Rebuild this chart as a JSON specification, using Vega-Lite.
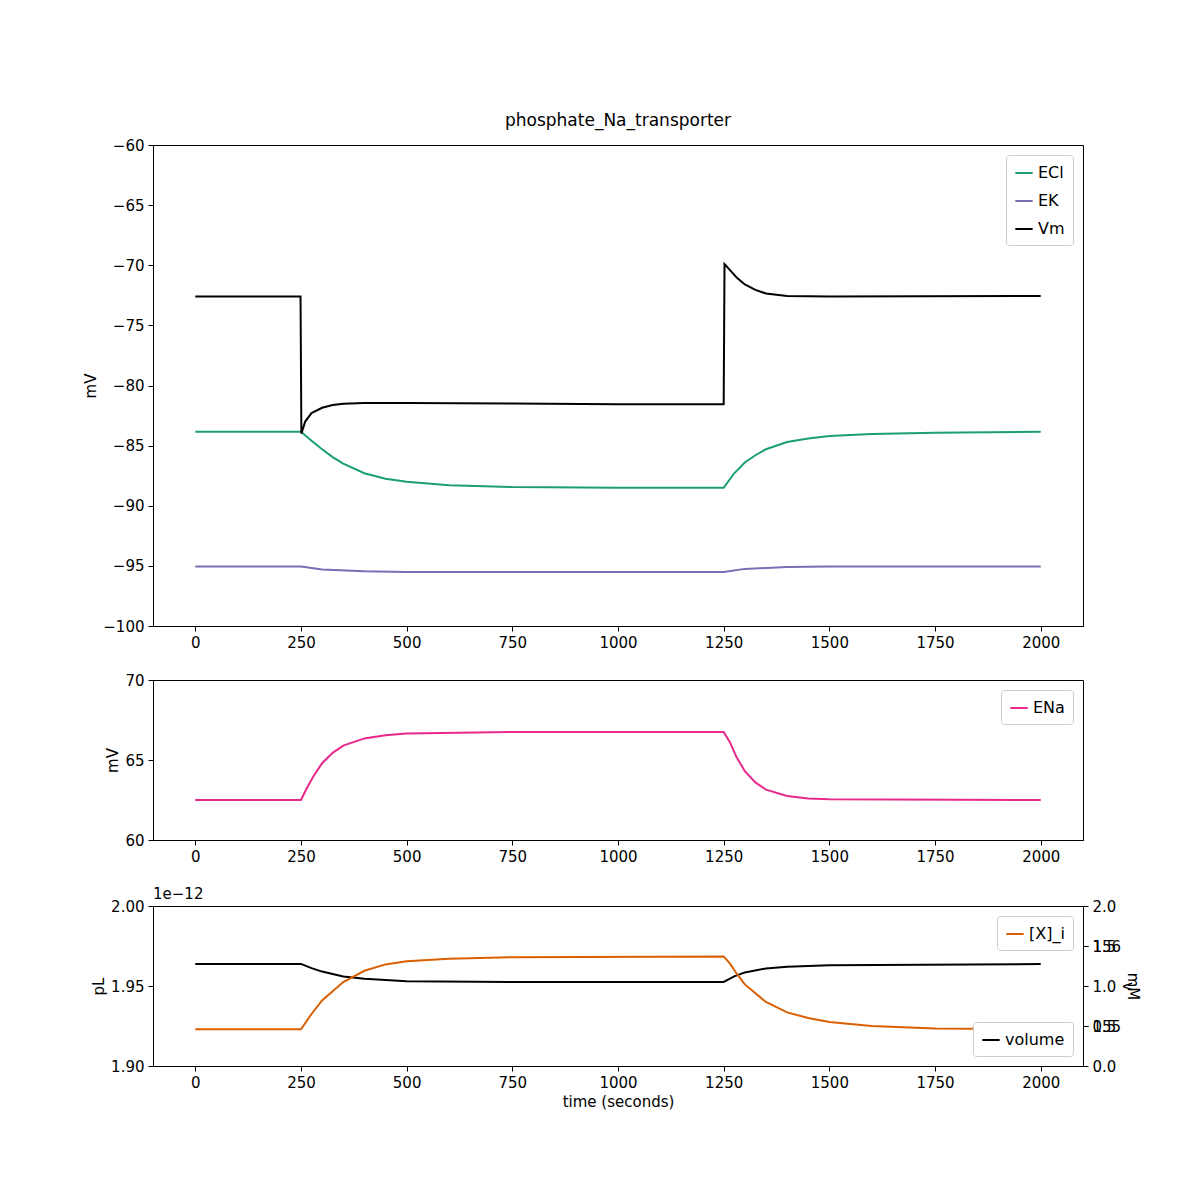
{
  "$schema": "https://vega.github.io/schema/vega-lite/v6.json",
  "padding": {"left": 83, "top": 111, "right": 120, "bottom": 60},
  "spacing": 21,
  "resolve": {"scale": {"color": "independent"}},
  "config": {
    "font": "DejaVu Sans",
    "view": {"stroke": "black", "strokeWidth": 1},
    "axis": {"grid": false, "labelFontSize": 15, "titleFontSize": 15, "titleFontWeight": "normal", "labelColor": "black", "titleColor": "black", "tickColor": "black", "domainColor": "black", "tickSize": 5, "labelPadding": 4},
    "legend": {"labelFontSize": 16, "strokeColor": "#cccccc", "fillColor": "white", "padding": 8, "cornerRadius": 3, "symbolType": "stroke", "symbolStrokeWidth": 2, "symbolSize": 300, "title": null, "offset": 10, "rowPadding": 10},
    "title": {"fontSize": 17, "fontWeight": "normal", "font": "DejaVu Sans"}
  },
  "datasets": {
    "top": [
      {"t": 0, "s": "ECl", "v": -83.85}, {"t": 250, "s": "ECl", "v": -83.85}, {"t": 275, "s": "ECl", "v": -84.6}, {"t": 300, "s": "ECl", "v": -85.3}, {"t": 325, "s": "ECl", "v": -85.95}, {"t": 350, "s": "ECl", "v": -86.5}, {"t": 400, "s": "ECl", "v": -87.3}, {"t": 450, "s": "ECl", "v": -87.75}, {"t": 500, "s": "ECl", "v": -88.0}, {"t": 600, "s": "ECl", "v": -88.3}, {"t": 750, "s": "ECl", "v": -88.45}, {"t": 1000, "s": "ECl", "v": -88.5}, {"t": 1250, "s": "ECl", "v": -88.5}, {"t": 1275, "s": "ECl", "v": -87.3}, {"t": 1300, "s": "ECl", "v": -86.4}, {"t": 1325, "s": "ECl", "v": -85.8}, {"t": 1350, "s": "ECl", "v": -85.3}, {"t": 1400, "s": "ECl", "v": -84.7}, {"t": 1450, "s": "ECl", "v": -84.4}, {"t": 1500, "s": "ECl", "v": -84.2}, {"t": 1600, "s": "ECl", "v": -84.03}, {"t": 1750, "s": "ECl", "v": -83.93}, {"t": 2000, "s": "ECl", "v": -83.85},
      {"t": 0, "s": "EK", "v": -95.05}, {"t": 250, "s": "EK", "v": -95.05}, {"t": 300, "s": "EK", "v": -95.3}, {"t": 400, "s": "EK", "v": -95.45}, {"t": 500, "s": "EK", "v": -95.5}, {"t": 1250, "s": "EK", "v": -95.5}, {"t": 1300, "s": "EK", "v": -95.25}, {"t": 1400, "s": "EK", "v": -95.1}, {"t": 1500, "s": "EK", "v": -95.05}, {"t": 2000, "s": "EK", "v": -95.05},
      {"t": 0, "s": "Vm", "v": -72.6}, {"t": 249, "s": "Vm", "v": -72.6}, {"t": 251, "s": "Vm", "v": -84.0}, {"t": 260, "s": "Vm", "v": -83.0}, {"t": 275, "s": "Vm", "v": -82.3}, {"t": 300, "s": "Vm", "v": -81.85}, {"t": 325, "s": "Vm", "v": -81.62}, {"t": 350, "s": "Vm", "v": -81.52}, {"t": 400, "s": "Vm", "v": -81.45}, {"t": 500, "s": "Vm", "v": -81.45}, {"t": 750, "s": "Vm", "v": -81.5}, {"t": 1000, "s": "Vm", "v": -81.55}, {"t": 1250, "s": "Vm", "v": -81.55}, {"t": 1252, "s": "Vm", "v": -69.9}, {"t": 1265, "s": "Vm", "v": -70.4}, {"t": 1280, "s": "Vm", "v": -71.0}, {"t": 1300, "s": "Vm", "v": -71.6}, {"t": 1325, "s": "Vm", "v": -72.05}, {"t": 1350, "s": "Vm", "v": -72.35}, {"t": 1400, "s": "Vm", "v": -72.55}, {"t": 1500, "s": "Vm", "v": -72.6}, {"t": 2000, "s": "Vm", "v": -72.55}
    ],
    "mid": [
      {"t": 0, "s": "ENa", "v": 62.5}, {"t": 250, "s": "ENa", "v": 62.5}, {"t": 265, "s": "ENa", "v": 63.3}, {"t": 280, "s": "ENa", "v": 64.0}, {"t": 300, "s": "ENa", "v": 64.8}, {"t": 325, "s": "ENa", "v": 65.45}, {"t": 350, "s": "ENa", "v": 65.9}, {"t": 400, "s": "ENa", "v": 66.35}, {"t": 450, "s": "ENa", "v": 66.55}, {"t": 500, "s": "ENa", "v": 66.65}, {"t": 750, "s": "ENa", "v": 66.75}, {"t": 1250, "s": "ENa", "v": 66.75}, {"t": 1265, "s": "ENa", "v": 66.1}, {"t": 1280, "s": "ENa", "v": 65.2}, {"t": 1300, "s": "ENa", "v": 64.3}, {"t": 1325, "s": "ENa", "v": 63.6}, {"t": 1350, "s": "ENa", "v": 63.15}, {"t": 1400, "s": "ENa", "v": 62.75}, {"t": 1450, "s": "ENa", "v": 62.6}, {"t": 1500, "s": "ENa", "v": 62.55}, {"t": 2000, "s": "ENa", "v": 62.5}
    ],
    "vol": [
      {"t": 0, "s": "volume", "v": 1.9638}, {"t": 250, "s": "volume", "v": 1.9638}, {"t": 275, "s": "volume", "v": 1.9612}, {"t": 300, "s": "volume", "v": 1.959}, {"t": 350, "s": "volume", "v": 1.956}, {"t": 400, "s": "volume", "v": 1.9545}, {"t": 500, "s": "volume", "v": 1.953}, {"t": 750, "s": "volume", "v": 1.9525}, {"t": 1250, "s": "volume", "v": 1.9525}, {"t": 1275, "s": "volume", "v": 1.956}, {"t": 1300, "s": "volume", "v": 1.9585}, {"t": 1350, "s": "volume", "v": 1.961}, {"t": 1400, "s": "volume", "v": 1.962}, {"t": 1500, "s": "volume", "v": 1.963}, {"t": 2000, "s": "volume", "v": 1.9637}
    ],
    "xi": [
      {"t": 0, "s": "[X]_i", "v": 154.96}, {"t": 250, "s": "[X]_i", "v": 154.96}, {"t": 275, "s": "[X]_i", "v": 155.15}, {"t": 300, "s": "[X]_i", "v": 155.32}, {"t": 350, "s": "[X]_i", "v": 155.55}, {"t": 400, "s": "[X]_i", "v": 155.69}, {"t": 450, "s": "[X]_i", "v": 155.77}, {"t": 500, "s": "[X]_i", "v": 155.81}, {"t": 600, "s": "[X]_i", "v": 155.84}, {"t": 750, "s": "[X]_i", "v": 155.86}, {"t": 1250, "s": "[X]_i", "v": 155.87}, {"t": 1265, "s": "[X]_i", "v": 155.78}, {"t": 1280, "s": "[X]_i", "v": 155.66}, {"t": 1300, "s": "[X]_i", "v": 155.52}, {"t": 1350, "s": "[X]_i", "v": 155.3}, {"t": 1400, "s": "[X]_i", "v": 155.17}, {"t": 1450, "s": "[X]_i", "v": 155.1}, {"t": 1500, "s": "[X]_i", "v": 155.05}, {"t": 1600, "s": "[X]_i", "v": 155.0}, {"t": 1750, "s": "[X]_i", "v": 154.97}, {"t": 2000, "s": "[X]_i", "v": 154.96}
    ],
    "exp": [{"t": -100, "v": 2.0, "label": "1e−12"}]
  },
  "vconcat": [
    {
      "title": {"text": "phosphate_Na_transporter", "offset": 8},
      "width": 930, "height": 481,
      "data": {"name": "top"},
      "mark": {"type": "line", "strokeWidth": 2},
      "encoding": {
        "x": {"field": "t", "type": "quantitative", "scale": {"domain": [-100, 2100], "nice": false}, "axis": {"values": [0, 250, 500, 750, 1000, 1250, 1500, 1750, 2000], "format": "d", "title": null}},
        "y": {"field": "v", "type": "quantitative", "scale": {"domain": [-100, -60], "nice": false}, "axis": {"tickCount": 9, "title": "mV"}},
        "color": {"field": "s", "type": "nominal", "scale": {"domain": ["ECl", "EK", "Vm"], "range": ["#1b9e77", "#7570b3", "black"]}, "legend": {"orient": "top-right"}}
      }
    },
    {
      "width": 930, "height": 160,
      "data": {"name": "mid"},
      "mark": {"type": "line", "strokeWidth": 2},
      "encoding": {
        "x": {"field": "t", "type": "quantitative", "scale": {"domain": [-100, 2100], "nice": false}, "axis": {"values": [0, 250, 500, 750, 1000, 1250, 1500, 1750, 2000], "format": "d", "title": null}},
        "y": {"field": "v", "type": "quantitative", "scale": {"domain": [60, 70], "nice": false}, "axis": {"values": [60, 65, 70], "title": "mV"}},
        "color": {"field": "s", "type": "nominal", "scale": {"domain": ["ENa"], "range": ["#e7298a"]}, "legend": {"orient": "top-right"}}
      }
    },
    {
      "width": 930, "height": 160,
      "layer": [
        {
          "data": {"name": "vol"},
          "mark": {"type": "line", "strokeWidth": 2},
          "encoding": {
            "x": {"field": "t", "type": "quantitative", "scale": {"domain": [-100, 2100], "nice": false}, "axis": {"values": [0, 250, 500, 750, 1000, 1250, 1500, 1750, 2000], "format": "d", "title": "time (seconds)"}},
            "y": {"field": "v", "type": "quantitative", "scale": {"domain": [1.9, 2.0], "nice": false}, "axis": {"values": [1.9, 1.95, 2.0], "format": ".2f", "title": "pL"}},
            "color": {"field": "s", "type": "nominal", "scale": {"domain": ["volume"], "range": ["black"]}, "legend": {"orient": "bottom-right"}}
          }
        },
        {
          "data": {"name": "exp"},
          "mark": {"type": "text", "align": "left", "baseline": "bottom", "dy": -4, "fontSize": 15, "clip": false},
          "encoding": {
            "x": {"field": "t", "type": "quantitative"},
            "y": {"field": "v", "type": "quantitative"},
            "text": {"field": "label"}
          }
        },
        {
          "data": {"name": "xi"},
          "mark": {"type": "line", "strokeWidth": 2},
          "encoding": {
            "x": {"field": "t", "type": "quantitative"},
            "y": {"field": "v", "type": "quantitative", "scale": {"domain": [154.5, 156.5], "nice": false}, "axis": {"values": [155, 156], "orient": "right", "title": "mM"}},
            "color": {"field": "s", "type": "nominal", "scale": {"domain": ["[X]_i"], "range": ["#d95f02"]}, "legend": {"orient": "top-right"}}
          }
        }
      ],
      "resolve": {"scale": {"y": "independent", "color": "independent"}}
    }
  ]
}
